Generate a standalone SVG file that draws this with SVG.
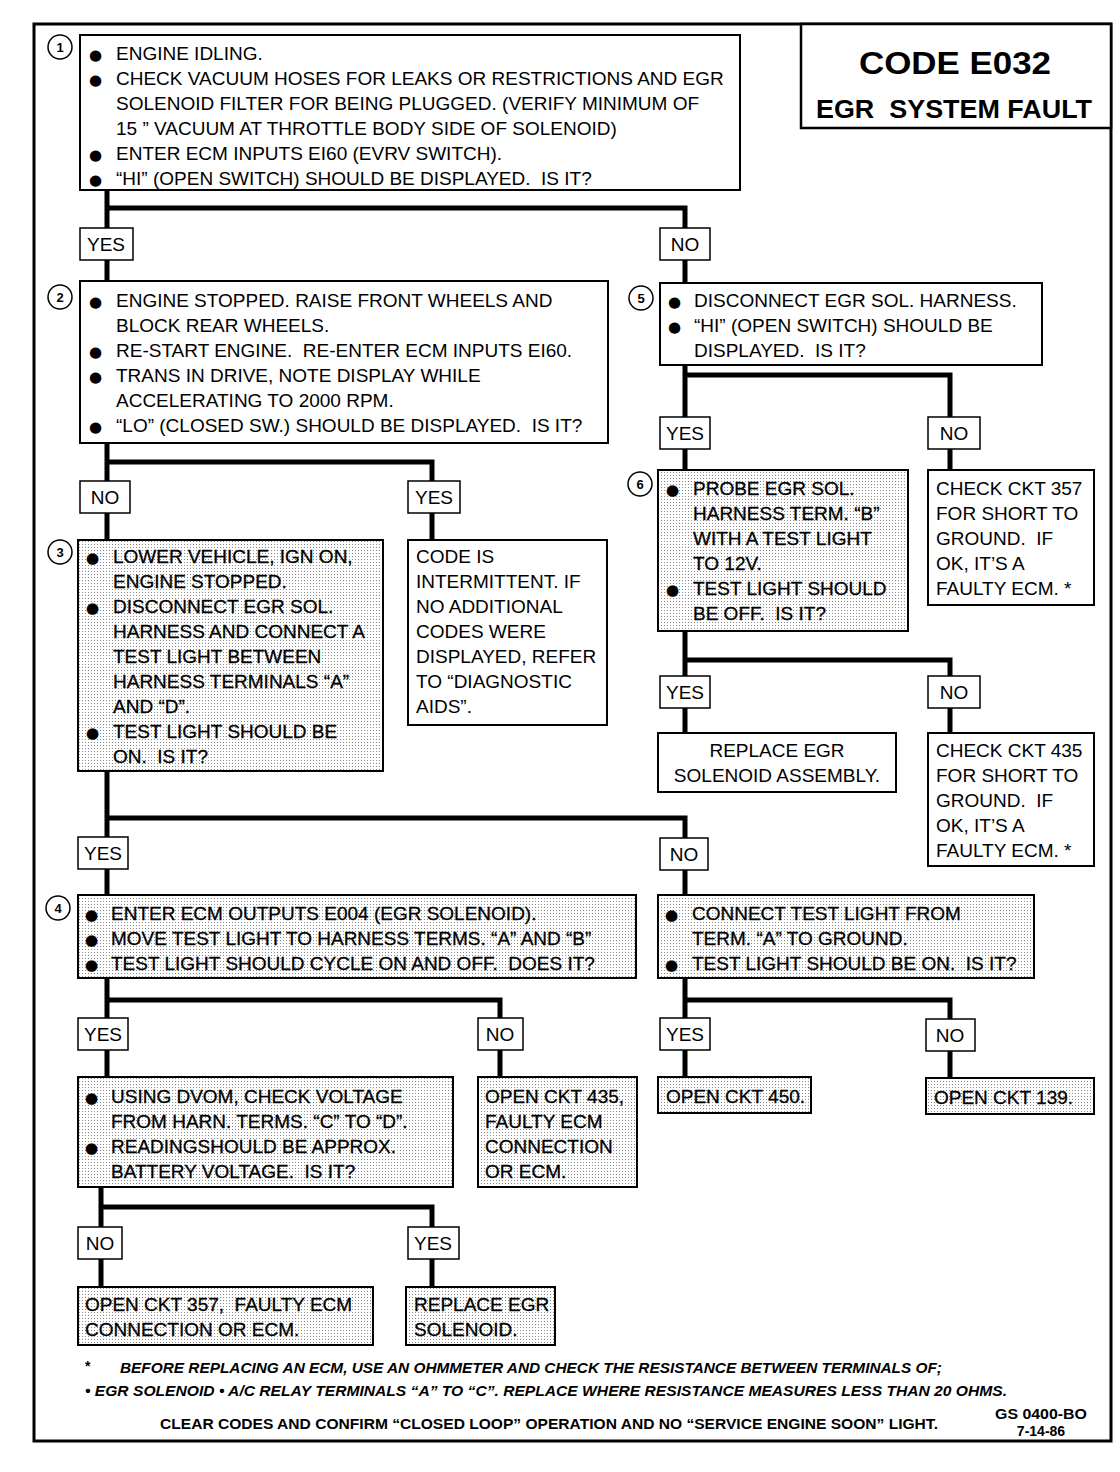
<svg xmlns="http://www.w3.org/2000/svg" width="1120" height="1472" viewBox="0 0 1120 1472">
<defs>
<pattern id="dots" width="3" height="3" patternUnits="userSpaceOnUse"><rect width="3" height="3" fill="#fff"/><rect x="1" y="1" width="1" height="1" fill="#8a8a8a"/></pattern>
<style>
.box{fill:#fff;stroke:#000;stroke-width:2}
.shade{fill:url(#dots);stroke:#000;stroke-width:2}
.lb{fill:#fff;stroke:#000;stroke-width:1.5}
.t{font-family:"Liberation Sans",Arial,sans-serif;font-size:19px;fill:#000}
.ts{font-family:"Liberation Sans",Arial,sans-serif;font-size:19px;fill:#000;stroke:#000;stroke-width:0.3}
.b{font-family:"DejaVu Sans",sans-serif;font-size:15px}
.c{text-anchor:middle}
.num{font-family:"Liberation Sans",Arial,sans-serif;font-size:13px;font-weight:bold;text-anchor:middle}
.circ{fill:#fff;stroke:#000;stroke-width:1.5}
.conn path{stroke:#000;stroke-width:5;fill:none}
.foot{font-family:"Liberation Sans",Arial,sans-serif;font-size:14px;font-weight:bold;fill:#000}
</style>
</defs>
<rect width="1120" height="1472" fill="#fff"/>
<rect x="34" y="24" width="1077" height="1417" fill="none" stroke="#000" stroke-width="3"/>

<g id="title">
<rect x="801" y="24" width="310" height="104" fill="#fff" stroke="#000" stroke-width="2.5"/>
<text x="955" y="74" font-family="Liberation Sans,Arial,sans-serif" font-size="32" font-weight="bold" text-anchor="middle" textLength="192" lengthAdjust="spacingAndGlyphs">CODE E032</text>
<text x="954" y="118" font-family="Liberation Sans,Arial,sans-serif" font-size="25" font-weight="bold" text-anchor="middle" textLength="276" lengthAdjust="spacingAndGlyphs" xml:space="preserve">EGR  SYSTEM FAULT</text>
</g>

<g class="conn" id="connectors">
<path d="M107 190V228M107 208H685V228M107 260V281M685 260V283"/>
<path d="M107 443V481M107 462H432V481M107 513V540M432 513V540"/>
<path d="M685 365V417M685 375H950V417M685 449V470M950 449V470"/>
<path d="M685 631V676M685 660H950V676M685 708V733M950 708V733"/>
<path d="M107 771V837M107 818H685V838M107 869V895M685 870V895"/>
<path d="M107 978V1018M107 1000H500V1018M107 1050V1077M500 1050V1077"/>
<path d="M685 978V1018M685 1000H950V1019M685 1050V1077M950 1051V1078"/>
<path d="M101 1187V1227M101 1207H432V1227M101 1259V1287M432 1259V1287"/>
</g>

<g id="n1">
<rect class="box" x="80" y="35" width="660" height="155"/>
<circle class="circ" cx="60" cy="47" r="12"/><text class="num" x="60" y="52">1</text>
<text class="t" xml:space="preserve"><tspan class="b" x="89" y="60">●</tspan><tspan x="116" y="60">ENGINE IDLING.</tspan><tspan class="b" x="89" y="85">●</tspan><tspan x="116" y="85">CHECK VACUUM HOSES FOR LEAKS OR RESTRICTIONS AND EGR</tspan><tspan x="116" y="110">SOLENOID FILTER FOR BEING PLUGGED. (VERIFY MINIMUM OF</tspan><tspan x="116" y="135">15 ” VACUUM AT THROTTLE BODY SIDE OF SOLENOID)</tspan><tspan class="b" x="89" y="160">●</tspan><tspan x="116" y="160">ENTER ECM INPUTS EI60 (EVRV SWITCH).</tspan><tspan class="b" x="89" y="185">●</tspan><tspan x="116" y="185">“HI” (OPEN SWITCH) SHOULD BE DISPLAYED.  IS IT?</tspan></text>
</g>
<g id="l1y"><rect class="lb" x="80" y="228" width="53" height="32"/><text class="t c" x="106" y="251">YES</text></g>
<g id="l1n"><rect class="lb" x="660" y="228" width="50" height="32"/><text class="t c" x="685" y="251">NO</text></g>

<g id="n2">
<rect class="box" x="80" y="281" width="528" height="162"/>
<circle class="circ" cx="60" cy="297" r="12"/><text class="num" x="60" y="302">2</text>
<text class="t" xml:space="preserve"><tspan class="b" x="89" y="307">●</tspan><tspan x="116" y="307">ENGINE STOPPED. RAISE FRONT WHEELS AND</tspan><tspan x="116" y="332">BLOCK REAR WHEELS.</tspan><tspan class="b" x="89" y="357">●</tspan><tspan x="116" y="357">RE-START ENGINE.  RE-ENTER ECM INPUTS EI60.</tspan><tspan class="b" x="89" y="382">●</tspan><tspan x="116" y="382">TRANS IN DRIVE, NOTE DISPLAY WHILE</tspan><tspan x="116" y="407">ACCELERATING TO 2000 RPM.</tspan><tspan class="b" x="89" y="432">●</tspan><tspan x="116" y="432">“LO” (CLOSED SW.) SHOULD BE DISPLAYED.  IS IT?</tspan></text>
</g>

<g id="n5">
<rect class="box" x="660" y="283" width="382" height="82"/>
<circle class="circ" cx="641" cy="298" r="12"/><text class="num" x="641" y="303">5</text>
<text class="t" xml:space="preserve"><tspan class="b" x="668" y="307">●</tspan><tspan x="694" y="307">DISCONNECT EGR SOL. HARNESS.</tspan><tspan class="b" x="668" y="332">●</tspan><tspan x="694" y="332">“HI” (OPEN SWITCH) SHOULD BE</tspan><tspan x="694" y="357">DISPLAYED.  IS IT?</tspan></text>
</g>
<g id="l5y"><rect class="lb" x="660" y="417" width="50" height="32"/><text class="t c" x="685" y="440">YES</text></g>
<g id="l5n"><rect class="lb" x="928" y="417" width="52" height="32"/><text class="t c" x="954" y="440">NO</text></g>

<g id="n6">
<rect class="shade" x="658" y="470" width="250" height="161"/>
<circle class="circ" cx="640" cy="484" r="12"/><text class="num" x="640" y="489">6</text>
<text class="ts" xml:space="preserve"><tspan class="b" x="666" y="495">●</tspan><tspan x="693" y="495">PROBE EGR SOL.</tspan><tspan x="693" y="520">HARNESS TERM. “B”</tspan><tspan x="693" y="545">WITH A TEST LIGHT</tspan><tspan x="693" y="570">TO 12V.</tspan><tspan class="b" x="666" y="595">●</tspan><tspan x="693" y="595">TEST LIGHT SHOULD</tspan><tspan x="693" y="620">BE OFF.  IS IT?</tspan></text>
</g>
<g id="n357a">
<rect class="box" x="928" y="470" width="166" height="135"/>
<text class="t" xml:space="preserve"><tspan x="936" y="495">CHECK CKT 357</tspan><tspan x="936" y="520">FOR SHORT TO</tspan><tspan x="936" y="545">GROUND.  IF</tspan><tspan x="936" y="570">OK, IT’S A</tspan><tspan x="936" y="595">FAULTY ECM. *</tspan></text>
</g>
<g id="l6y"><rect class="lb" x="660" y="676" width="50" height="32"/><text class="t c" x="685" y="699">YES</text></g>
<g id="l6n"><rect class="lb" x="928" y="676" width="52" height="32"/><text class="t c" x="954" y="699">NO</text></g>
<g id="nrep1">
<rect class="box" x="658" y="733" width="238" height="59"/>
<text class="t c"><tspan x="777" y="757">REPLACE EGR</tspan><tspan x="777" y="782">SOLENOID ASSEMBLY.</tspan></text>
</g>
<g id="n435a">
<rect class="box" x="928" y="733" width="166" height="133"/>
<text class="t" xml:space="preserve"><tspan x="936" y="757">CHECK CKT 435</tspan><tspan x="936" y="782">FOR SHORT TO</tspan><tspan x="936" y="807">GROUND.  IF</tspan><tspan x="936" y="832">OK, IT’S A</tspan><tspan x="936" y="857">FAULTY ECM. *</tspan></text>
</g>

<g id="l2n"><rect class="lb" x="80" y="481" width="50" height="32"/><text class="t c" x="105" y="504">NO</text></g>
<g id="l2y"><rect class="lb" x="408" y="481" width="52" height="32"/><text class="t c" x="434" y="504">YES</text></g>

<g id="n3">
<rect class="shade" x="78" y="540" width="305" height="231"/>
<circle class="circ" cx="60" cy="552" r="12"/><text class="num" x="60" y="557">3</text>
<text class="ts" xml:space="preserve"><tspan class="b" x="86" y="563">●</tspan><tspan x="113" y="563">LOWER VEHICLE, IGN ON,</tspan><tspan x="113" y="588">ENGINE STOPPED.</tspan><tspan class="b" x="86" y="613">●</tspan><tspan x="113" y="613">DISCONNECT EGR SOL.</tspan><tspan x="113" y="638">HARNESS AND CONNECT A</tspan><tspan x="113" y="663">TEST LIGHT BETWEEN</tspan><tspan x="113" y="688">HARNESS TERMINALS “A”</tspan><tspan x="113" y="713">AND “D”.</tspan><tspan class="b" x="86" y="738">●</tspan><tspan x="113" y="738">TEST LIGHT SHOULD BE</tspan><tspan x="113" y="763">ON.  IS IT?</tspan></text>
</g>
<g id="nint">
<rect class="box" x="408" y="540" width="199" height="185"/>
<text class="t"><tspan x="416" y="563">CODE IS</tspan><tspan x="416" y="588">INTERMITTENT. IF</tspan><tspan x="416" y="613">NO ADDITIONAL</tspan><tspan x="416" y="638">CODES WERE</tspan><tspan x="416" y="663">DISPLAYED, REFER</tspan><tspan x="416" y="688">TO “DIAGNOSTIC</tspan><tspan x="416" y="713">AIDS”.</tspan></text>
</g>

<g id="l3y"><rect class="lb" x="78" y="837" width="50" height="32"/><text class="t c" x="103" y="860">YES</text></g>
<g id="l3n"><rect class="lb" x="660" y="838" width="48" height="32"/><text class="t c" x="684" y="861">NO</text></g>

<g id="n4">
<rect class="shade" x="78" y="895" width="558" height="83"/>
<circle class="circ" cx="58" cy="908" r="12"/><text class="num" x="58" y="913">4</text>
<text class="ts" xml:space="preserve"><tspan class="b" x="85" y="920">●</tspan><tspan x="111" y="920">ENTER ECM OUTPUTS E004 (EGR SOLENOID).</tspan><tspan class="b" x="85" y="945">●</tspan><tspan x="111" y="945">MOVE TEST LIGHT TO HARNESS TERMS. “A” AND “B”</tspan><tspan class="b" x="85" y="970">●</tspan><tspan x="111" y="970">TEST LIGHT SHOULD CYCLE ON AND OFF.  DOES IT?</tspan></text>
</g>
<g id="ngnd">
<rect class="shade" x="658" y="895" width="376" height="83"/>
<text class="ts" xml:space="preserve"><tspan class="b" x="665" y="920">●</tspan><tspan x="692" y="920">CONNECT TEST LIGHT FROM</tspan><tspan x="692" y="945">TERM. “A” TO GROUND.</tspan><tspan class="b" x="665" y="970">●</tspan><tspan x="692" y="970">TEST LIGHT SHOULD BE ON.  IS IT?</tspan></text>
</g>

<g id="l4y"><rect class="lb" x="78" y="1018" width="50" height="32"/><text class="t c" x="103" y="1041">YES</text></g>
<g id="l4n"><rect class="lb" x="478" y="1018" width="45" height="32"/><text class="t c" x="500" y="1041">NO</text></g>
<g id="lgy"><rect class="lb" x="660" y="1018" width="50" height="32"/><text class="t c" x="685" y="1041">YES</text></g>
<g id="lgn"><rect class="lb" x="926" y="1019" width="49" height="32"/><text class="t c" x="950" y="1042">NO</text></g>

<g id="ndvom">
<rect class="shade" x="78" y="1077" width="375" height="110"/>
<text class="ts" xml:space="preserve"><tspan class="b" x="85" y="1103">●</tspan><tspan x="111" y="1103">USING DVOM, CHECK VOLTAGE</tspan><tspan x="111" y="1128">FROM HARN. TERMS. “C” TO “D”.</tspan><tspan class="b" x="85" y="1153">●</tspan><tspan x="111" y="1153">READINGSHOULD BE APPROX.</tspan><tspan x="111" y="1178">BATTERY VOLTAGE.  IS IT?</tspan></text>
</g>
<g id="n435b">
<rect class="shade" x="478" y="1077" width="159" height="110"/>
<text class="ts"><tspan x="485" y="1103">OPEN CKT 435,</tspan><tspan x="485" y="1128">FAULTY ECM</tspan><tspan x="485" y="1153">CONNECTION</tspan><tspan x="485" y="1178">OR ECM.</tspan></text>
</g>
<g id="n450">
<rect class="shade" x="658" y="1077" width="153" height="36"/>
<text class="ts" x="666" y="1103">OPEN CKT 450.</text>
</g>
<g id="n139">
<rect class="shade" x="926" y="1078" width="168" height="36"/>
<text class="ts" x="934" y="1104">OPEN CKT 139.</text>
</g>

<g id="ldn"><rect class="lb" x="78" y="1227" width="44" height="32"/><text class="t c" x="100" y="1250">NO</text></g>
<g id="ldy"><rect class="lb" x="408" y="1227" width="51" height="32"/><text class="t c" x="433" y="1250">YES</text></g>

<g id="n357b">
<rect class="shade" x="78" y="1287" width="295" height="58"/>
<text class="ts" xml:space="preserve"><tspan x="85" y="1311">OPEN CKT 357,  FAULTY ECM</tspan><tspan x="85" y="1336">CONNECTION OR ECM.</tspan></text>
</g>
<g id="nrep2">
<rect class="shade" x="406" y="1287" width="149" height="58"/>
<text class="ts"><tspan x="414" y="1311">REPLACE EGR</tspan><tspan x="414" y="1336">SOLENOID.</tspan></text>
</g>

<g id="footer">
<text class="foot" x="85" y="1371" font-size="18">*</text>
<text class="foot" x="120" y="1373" font-style="italic" textLength="822" lengthAdjust="spacingAndGlyphs">BEFORE REPLACING AN ECM, USE AN OHMMETER AND CHECK THE RESISTANCE BETWEEN TERMINALS OF;</text>
<text class="foot" x="85" y="1396" font-style="italic" textLength="922" lengthAdjust="spacingAndGlyphs">• EGR SOLENOID • A/C RELAY TERMINALS “A” TO “C”.  REPLACE WHERE RESISTANCE MEASURES LESS THAN 20 OHMS.</text>
<text class="foot" x="160" y="1429" textLength="778" lengthAdjust="spacingAndGlyphs">CLEAR CODES AND CONFIRM “CLOSED LOOP” OPERATION AND NO “SERVICE ENGINE SOON” LIGHT.</text>
<text class="foot" x="1041" y="1419" text-anchor="middle" textLength="92" lengthAdjust="spacingAndGlyphs">GS 0400-BO</text>
<text class="foot" x="1041" y="1436" text-anchor="middle">7-14-86</text>
</g>
</svg>
